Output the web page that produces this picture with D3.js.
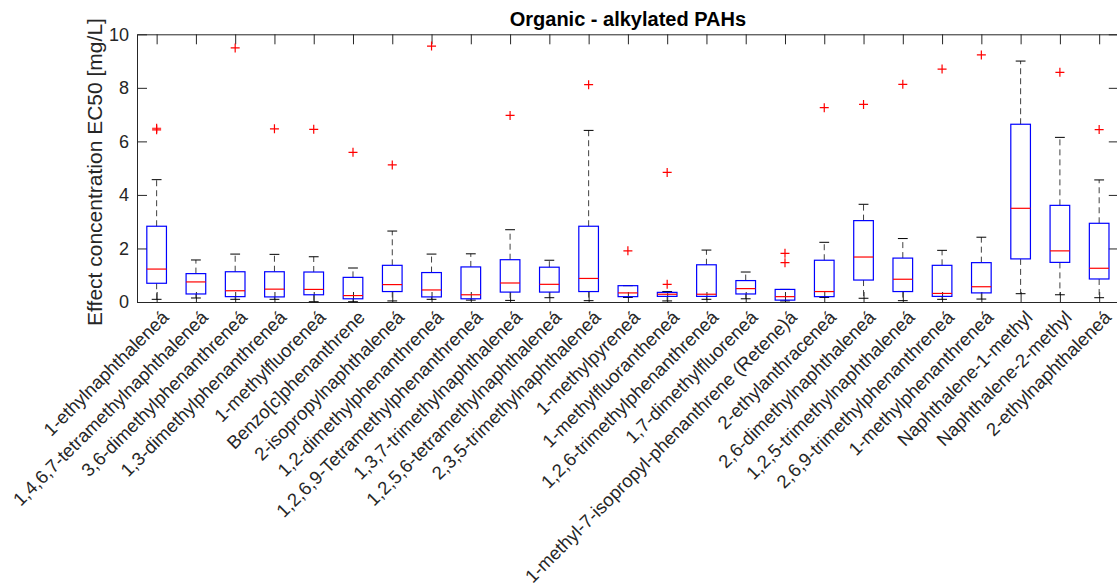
<!DOCTYPE html>
<html>
<head>
<meta charset="utf-8">
<script src="https://cdn.jsdelivr.net/npm/d3@7"></script>
<style>
  body { margin: 0; background: #fff; }
  svg { font-family: "Liberation Sans", Arial, Helvetica, sans-serif; }
</style>
</head>
<body>
<svg width="1117" height="587"></svg>
<script>
// compound names (the trailing á is in the original figure)
var compounds = [
    "1-ethylnaphthaleneá",
    "1,4,6,7-tetramethylnaphthaleneá",
    "3,6-dimethylphenanthreneá",
    "1,3-dimethylphenanthreneá",
    "1-methylfluoreneá",
    "Benzo[c]phenanthrene",
    "2-isopropylnaphthaleneá",
    "1,2-dimethylphenanthreneá",
    "1,2,6,9-Tetramethylphenanthreneá",
    "1,3,7-trimethylnaphthaleneá",
    "1,2,5,6-tetramethylnaphthaleneá",
    "2,3,5-trimethylnaphthaleneá",
    "1-methylpyreneá",
    "1-methylfluorantheneá",
    "1,2,6-trimethylphenanthreneá",
    "1,7-dimethylfluoreneá",
    "1-methyl-7-isopropyl-phenanthrene (Retene)á",
    "2-ethylanthraceneá",
    "2,6-dimethylnaphthaleneá",
    "1,2,5-trimethylnaphthaleneá",
    "2,6,9-trimethylphenanthreneá",
    "1-methylphenanthreneá",
    "Naphthalene-1-methyl",
    "Naphthalene-2-methyl",
    "2-ethylnaphthaleneá"
]

// box stats, mg/L
var whiskerLow  = [0.10, 0.15, 0.10, 0.10, 0.01, 0.01, 0.04, 0.10, 0.07, 0.06, 0.16, 0.05, 0.17, 0.04, 0.10, 0.12, 0.04, 0.17, 0.14, 0.05, 0.10, 0.11, 0.31, 0.27, 0.16]
var quart1      = [0.70, 0.30, 0.20, 0.19, 0.27, 0.12, 0.39, 0.19, 0.12, 0.37, 0.37, 0.39, 0.20, 0.21, 0.21, 0.30, 0.07, 0.20, 0.82, 0.39, 0.21, 0.34, 1.61, 1.48, 0.86]
var medians     = [1.23, 0.75, 0.42, 0.48, 0.47, 0.24, 0.65, 0.45, 0.27, 0.71, 0.66, 0.88, 0.34, 0.29, 0.29, 0.50, 0.20, 0.39, 1.68, 0.85, 0.32, 0.57, 3.50, 1.91, 1.26]
var quart3      = [2.83, 1.06, 1.13, 1.13, 1.12, 0.92, 1.37, 1.10, 1.31, 1.58, 1.30, 2.83, 0.61, 0.36, 1.39, 0.80, 0.47, 1.56, 3.04, 1.64, 1.37, 1.47, 6.64, 3.61, 2.94]
var whiskerHigh = [4.57, 1.57, 1.79, 1.78, 1.69, 1.27, 2.65, 1.79, 1.80, 2.70, 1.56, 6.41, 0.61, 0.39, 1.94, 1.12, 0.47, 2.23, 3.65, 2.37, 1.93, 2.42, 9.00, 6.15, 4.56]
var outliers = [
    [6.43, 6.49], [], [9.49], [6.47], [6.45], [5.59], [5.12], [9.56], [], [6.97],
    [], [8.12], [1.91], [0.66, 4.84], [], [], [1.47, 1.82], [7.26], [7.38], [8.13],
    [8.70], [9.23], [], [8.58], [6.44]
]
var yTicks = [0, 2, 4, 6, 8, 10]

var titleText = "Organic - alkylated PAHs"
var yLabelText = "Effect concentration EC50 [mg/L]"

var svg = d3.select("svg")

// plot box in pixels (right edge runs just past the window like the original)
var plotLeft = 137, plotRight = 1118.8, plotTop = 34.3, plotBottom = 302

var x = d3.scalePoint().domain(compounds).range([plotLeft, plotRight]).padding(0.5)
var y = d3.scaleLinear().domain([0, 10]).range([plotBottom, plotTop])

var boxW = x.step() * 0.5
var capW = boxW * 0.5
var axisColor = "#262626"

var dataset = compounds.map(function(name, i){
    return {
        name: name,
        lo: whiskerLow[i],
        q1: quart1[i],
        med: medians[i],
        q3: quart3[i],
        hi: whiskerHigh[i],
        out: outliers[i]
    }
})

// ---- axes (ticks point inward on all four sides)
var xAxis = d3.axisBottom(x).tickSizeInner(-10).tickSizeOuter(0).tickPadding(10)
var xAxisTop = d3.axisTop(x).tickSizeInner(-10).tickSizeOuter(0).tickFormat("")
var yAxis = d3.axisLeft(y).tickValues(yTicks).tickSizeInner(-10).tickSizeOuter(0).tickPadding(8)
var yAxisRight = d3.axisRight(y).tickValues(yTicks).tickSizeInner(-10).tickSizeOuter(0).tickFormat("")

function styleAxis(g){
    g.selectAll("path").attr("stroke", axisColor)
    g.selectAll("line").attr("stroke", axisColor)
    g.selectAll("text").attr("fill", axisColor)
}

var gx = svg.append("g")
    .attr("transform", "translate(0," + plotBottom + ")")
    .call(xAxis)
    .call(styleAxis)
gx.selectAll("text")
    .attr("font-size", "18.5px")
    .attr("text-anchor", "end")
    .attr("dy", "0.35em")
    .attr("transform", "translate(8,12) rotate(-45)")
    .attr("y", 0)
    .attr("x", 0)

svg.append("g")
    .attr("transform", "translate(0," + plotTop + ")")
    .call(xAxisTop)
    .call(styleAxis)

svg.append("g")
    .attr("transform", "translate(" + plotLeft + ",0)")
    .call(yAxis)
    .call(styleAxis)
    .selectAll("text")
    .attr("font-size", "18px")

svg.append("g")
    .attr("transform", "translate(" + plotRight + ",0)")
    .call(yAxisRight)
    .call(styleAxis)

// ---- boxes
var boxes = svg.append("g").selectAll("g")
    .data(dataset)
    .enter().append("g")
    .attr("transform", function(d){ return "translate(" + x(d.name) + ",0)" })

// dashed whiskers
boxes.append("line")
    .attr("x1", 0).attr("x2", 0)
    .attr("y1", function(d){ return y(d.q3) })
    .attr("y2", function(d){ return y(d.hi) })
    .attr("stroke", "#404040")
    .attr("stroke-dasharray", "6,4")
boxes.append("line")
    .attr("x1", 0).attr("x2", 0)
    .attr("y1", function(d){ return y(d.q1) })
    .attr("y2", function(d){ return y(d.lo) })
    .attr("stroke", "#404040")
    .attr("stroke-dasharray", "6,4")

// whisker caps
boxes.append("line")
    .attr("x1", -capW / 2).attr("x2", capW / 2)
    .attr("y1", function(d){ return y(d.hi) })
    .attr("y2", function(d){ return y(d.hi) })
    .attr("stroke", "#000")
boxes.append("line")
    .attr("x1", -capW / 2).attr("x2", capW / 2)
    .attr("y1", function(d){ return y(d.lo) })
    .attr("y2", function(d){ return y(d.lo) })
    .attr("stroke", "#000")

boxes.append("rect")
    .attr("x", -boxW / 2)
    .attr("width", boxW)
    .attr("y", function(d){ return y(d.q3) })
    .attr("height", function(d){ return y(d.q1) - y(d.q3) })
    .attr("fill", "none")
    .attr("stroke", "#0000ff")
    .attr("stroke-width", 1.2)

boxes.append("line")
    .attr("x1", -boxW / 2).attr("x2", boxW / 2)
    .attr("y1", function(d){ return y(d.med) })
    .attr("y2", function(d){ return y(d.med) })
    .attr("stroke", "#ff0000")
    .attr("stroke-width", 1.2)

// outliers as red plus signs
boxes.selectAll("path.out")
    .data(function(d){ return d.out })
    .enter().append("path")
    .attr("class", "out")
    .attr("d", function(v){
        var cy = y(v), s = 4.5
        return "M" + (-s) + "," + cy + "H" + s + "M0," + (cy - s) + "V" + (cy + s)
    })
    .attr("stroke", "#ff0000")
    .attr("stroke-width", 1.2)
    .attr("fill", "none")

// ---- title and y label
svg.append("text")
    .attr("x", (plotLeft + plotRight) / 2)
    .attr("y", 26)
    .attr("text-anchor", "middle")
    .attr("font-size", "20px")
    .attr("font-weight", "bold")
    .attr("fill", "#000")
    .text(titleText)

svg.append("text")
    .attr("transform", "translate(102,172) rotate(-90)")
    .attr("text-anchor", "middle")
    .attr("font-size", "21px")
    .attr("fill", axisColor)
    .text(yLabelText)
</script>
</body>
</html>
